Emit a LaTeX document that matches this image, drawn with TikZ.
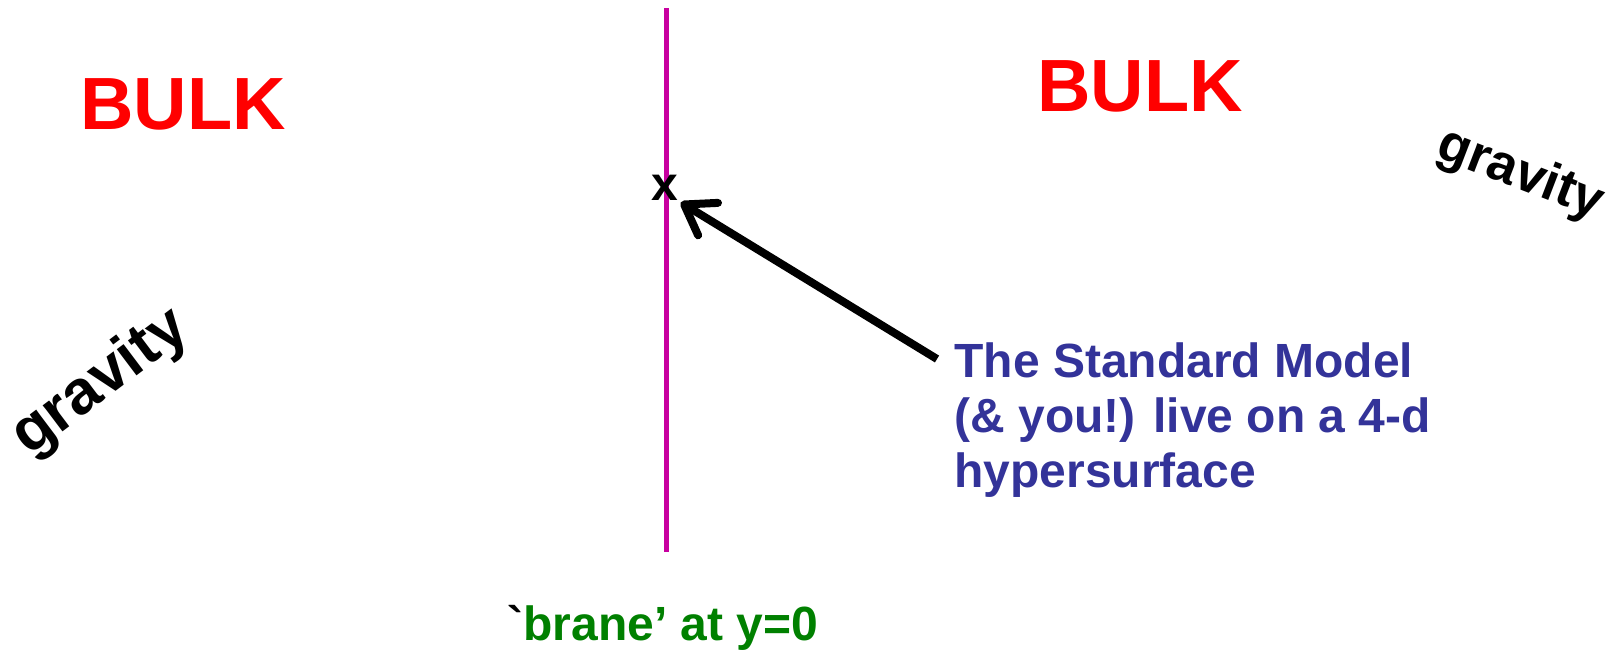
\documentclass[tikz,border=0pt]{standalone}
\usepackage{fontspec}
\setmainfont{Liberation Sans}
\usetikzlibrary{arrows.meta}
\definecolor{bulkred}{HTML}{FF0000}
\definecolor{branemag}{HTML}{C800A0}
\definecolor{smblue}{HTML}{333399}
\definecolor{branegreen}{HTML}{008000}
\begin{document}
\begin{tikzpicture}[x=0.5pt, y=-0.5pt, every node/.style={font=\bfseries, inner sep=0pt},
  bulk/.style={text=bulkred, font=\bfseries\fontsize{37}{40}\selectfont, anchor=base west},
  grav/.style={font=\bfseries\fontsize{#1}{#1}\selectfont},
  grav/.default=27]
\useasboundingbox (0,0) rectangle (1618,650);
\node[bulk] (bulkl) at (80,129) {BULK};
\node[bulk] (bulkr) at (1037,111) {BULK};
\node[grav=31, rotate=37] (gravl) at (101,383) {gravity};
\node[grav=26.5, rotate=-21] (gravr) at (1520,175) {gravity};
% the brane
\coordinate (btop) at (666,8);
\coordinate (bbot) at (666,552);
\draw[branemag, line width=2.5pt] (btop) -- (bbot);
\node[font=\bfseries\fontsize{24}{24}\selectfont, anchor=base, inner sep=1pt] (pt) at (665,200) {x};
\node[text=smblue, font=\bfseries\fontsize{24}{27.5}\selectfont, align=left, anchor=north west]
  (sm) at (954,342) {The Standard Model\\(\& you!) live on a 4-d\\hypersurface};
\coordinate (smtail) at (937,359);
\draw[line width=4pt, -{Straight Barb[round, length=14pt, width=19pt]}] (smtail) -- (pt.south east);
\node[text=branegreen, font=\bfseries\fontsize{24}{24}\selectfont, anchor=base] (lbl) at (663,640)
  {{\color{black}\textasciigrave}brane’ at y=0};
\end{tikzpicture}
\end{document}
